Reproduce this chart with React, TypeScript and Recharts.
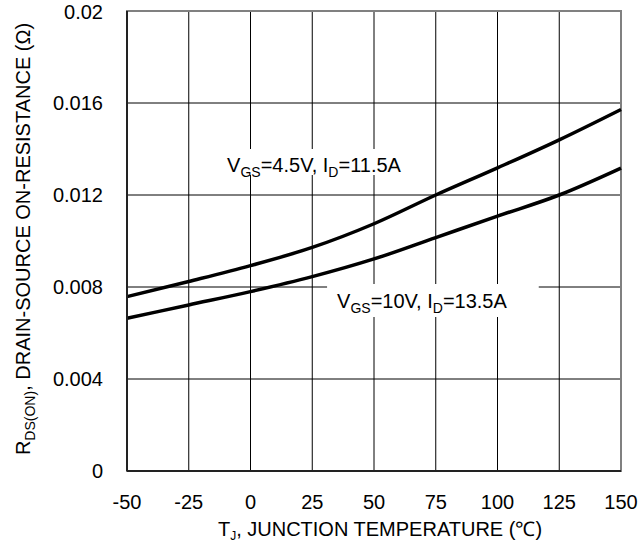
import { CartesianGrid, Line, LineChart, ReferenceArea, XAxis, YAxis } from "recharts";

const temps = [-50, -25, 0, 25, 50, 75, 100, 125, 150];
const rds45 = [0.00758, 0.00824, 0.00893, 0.00972, 0.01075, 0.012, 0.01318, 0.0144, 0.01572];
const rds10 = [0.00664, 0.00722, 0.0078, 0.00845, 0.00922, 0.01015, 0.01108, 0.012, 0.01317];
const yTicks = [0, 0.004, 0.008, 0.012, 0.016, 0.02];

const data = temps.map((t, i) => ({ t, r45: rds45[i], r10: rds10[i] }));

const FONT = "'Liberation Sans', Arial, sans-serif";
const tickStyle = { fontSize: 20, fill: "#000", fontFamily: FONT };

function YTitle({ viewBox }: any) {
  const cx = 30;
  const cy = viewBox.y + viewBox.height / 2 - 2;
  return (
    <text
      x={cx}
      y={cy}
      transform={`rotate(-90 ${cx} ${cy})`}
      textAnchor="middle"
      fontSize={20}
      fontFamily={FONT}
      fill="#000"
    >
      <tspan>R</tspan>
      <tspan fontSize={14} dy={5}>DS(ON)</tspan>
      <tspan dy={-5}>,  DRAIN-SOURCE ON-RESISTANCE (Ω)</tspan>
    </text>
  );
}

function XTitle({ viewBox }: any) {
  return (
    <text
      x={viewBox.x + viewBox.width / 2 + 6}
      y={536}
      textAnchor="middle"
      fontSize={20}
      fontFamily={FONT}
      fill="#000"
    >
      <tspan>T</tspan>
      <tspan fontSize={12} dy={4}>J</tspan>
      <tspan dy={-4}>, JUNCTION TEMPERATURE (℃)</tspan>
    </text>
  );
}

function condLabel(vgs: string, id: string, dx: number, base: number) {
  return ({ viewBox }: any) => (
    <text x={viewBox.x + dx} y={viewBox.y + base} fontSize={20} fontFamily={FONT} fill="#000">
      <tspan>V</tspan>
      <tspan fontSize={14} dy={5}>GS</tspan>
      <tspan dy={-5}>{`=${vgs}, I`}</tspan>
      <tspan fontSize={14} dy={5}>D</tspan>
      <tspan dy={-5}>{`=${id}`}</tspan>
    </text>
  );
}

export default function App() {
  return (
    <div style={{ position: "absolute", left: 0, top: 0 }}>
      <LineChart width={638} height={546} data={data} margin={{ top: 11, right: 17, bottom: 0, left: 0 }}>
        <CartesianGrid stroke="#000" strokeWidth={1} />
        <XAxis
          dataKey="t"
          type="number"
          domain={[-50, 150]}
          ticks={temps}
          height={75}
          tickLine={false}
          tickSize={0}
          tickMargin={24}
          axisLine={{ stroke: "#222", strokeWidth: 2 }}
          tick={tickStyle}
          label={{ content: XTitle }}
        />
        <YAxis
          type="number"
          domain={[0, 0.02]}
          ticks={yTicks}
          width={127}
          tickLine={false}
          tickSize={0}
          tickMargin={24}
          axisLine={{ stroke: "#222", strokeWidth: 2 }}
          tick={tickStyle}
          label={{ content: YTitle }}
        />
        <ReferenceArea x1={-11.5} x2={72} y1={0.01287} y2={0.014} fill="#fff" fillOpacity={1} stroke="none" label={{ content: condLabel("4.5V", "11.5A", 5, 23) }} />
        <ReferenceArea x1={31} x2={116.7} y1={0.0067} y2={0.00813} fill="#fff" fillOpacity={1} stroke="none" label={{ content: condLabel("10V", "13.5A", 10, 24) }} />
        <ReferenceArea x1={-50} x2={150} y1={0} y2={0.02} fill="none" stroke="#808080" strokeWidth={2} />
        <Line type="monotone" dataKey="r45" stroke="#000" strokeWidth={3.5} dot={false} isAnimationActive={false} />
        <Line type="monotone" dataKey="r10" stroke="#000" strokeWidth={3.5} dot={false} isAnimationActive={false} />
      </LineChart>
    </div>
  );
}
